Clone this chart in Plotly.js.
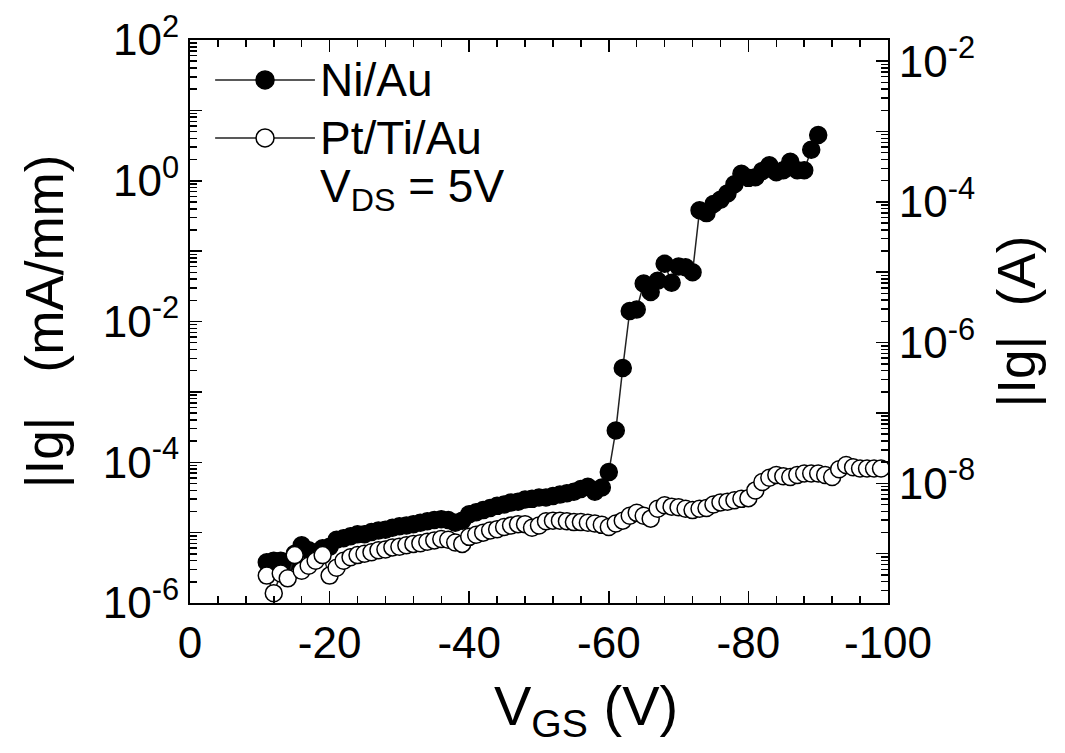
<!DOCTYPE html>
<html>
<head>
<meta charset="utf-8">
<script src="https://cdn.plot.ly/plotly-3.0.1.min.js"></script>
<style>html,body{margin:0;padding:0;background:#fff;}#chart{width:1065px;height:753px;}</style>
</head>
<body>
<div id="chart"></div>
<script>
// Gate voltage (V)
const vgsNiAu = [-11,-12,-13,-14,-15,-16,-17,-18,-19,-20,-21,-22,-23,-24,-25,-26,-27,-28,-29,-30,
  -31,-32,-33,-34,-35,-36,-37,-38,-39,-40,-41,-42,-43,-44,-45,-46,-47,-48,-49,-50,
  -51,-52,-53,-54,-55,-56,-57,-58,-59,-60,-61,-62,-63,-64,-65,-66,-67,-68,-69,-70,
  -71,-72,-73,-74,-75,-76,-77,-78,-79,-80,-81,-82,-83,-84,-85,-86,-87,-88,-89,-90];
// |Ig| (mA/mm), Ni/Au
const igNiAu = [3.8e-6,4.0e-6,4.0e-6,3.8e-6,5.0e-6,6.6e-6,5.6e-6,5.2e-6,6.0e-6,6.3e-6,
  7.9e-6,8.3e-6,8.9e-6,9.5e-6,9.5e-6,1.02e-5,1.07e-5,1.10e-5,1.17e-5,1.23e-5,
  1.26e-5,1.32e-5,1.38e-5,1.45e-5,1.51e-5,1.55e-5,1.51e-5,1.38e-5,1.48e-5,1.82e-5,
  1.95e-5,2.09e-5,2.24e-5,2.40e-5,2.51e-5,2.69e-5,2.75e-5,2.95e-5,3.02e-5,3.16e-5,
  3.16e-5,3.31e-5,3.47e-5,3.63e-5,3.80e-5,4.17e-5,4.47e-5,3.80e-5,4.37e-5,7.24e-5,
  2.82e-4,2.19e-3,1.41e-2,1.48e-2,3.47e-2,2.63e-2,3.80e-2,6.61e-2,3.55e-2,6.03e-2,
  5.89e-2,5.01e-2,0.380,0.347,0.468,0.537,0.661,0.891,1.26,1.10,
  1.12,1.38,1.66,1.32,1.41,1.86,1.41,1.41,2.75,4.47];

const vgsPtTiAu = [-11,-12,-13,-14,-15,-16,-17,-18,-19,-20,-21,-22,-23,-24,-25,-26,-27,-28,-29,-30,
  -31,-32,-33,-34,-35,-36,-37,-38,-39,-40,-41,-42,-43,-44,-45,-46,-47,-48,-49,-50,
  -51,-52,-53,-54,-55,-56,-57,-58,-59,-60,-61,-62,-63,-64,-65,-66,-67,-68,-69,-70,
  -71,-72,-73,-74,-75,-76,-77,-78,-79,-80,-81,-82,-83,-84,-85,-86,-87,-88,-89,-90,
  -91,-92,-93,-94,-95,-96,-97,-98,-99];
// |Ig| (mA/mm), Pt/Ti/Au
const igPtTiAu = [2.45e-6,1.38e-6,2.63e-6,2.24e-6,4.79e-6,2.88e-6,3.39e-6,3.98e-6,4.79e-6,2.45e-6,
  3.16e-6,3.98e-6,4.47e-6,4.79e-6,5.01e-6,5.25e-6,5.62e-6,5.75e-6,6.17e-6,6.31e-6,
  6.61e-6,6.92e-6,7.08e-6,7.41e-6,7.76e-6,8.13e-6,7.94e-6,7.24e-6,6.92e-6,8.71e-6,
  9.33e-6,1.0e-5,1.07e-5,1.12e-5,1.20e-5,1.26e-5,1.32e-5,1.32e-5,1.17e-5,1.26e-5,
  1.45e-5,1.48e-5,1.48e-5,1.45e-5,1.41e-5,1.41e-5,1.38e-5,1.35e-5,1.29e-5,1.20e-5,
  1.35e-5,1.48e-5,1.74e-5,1.91e-5,1.74e-5,1.58e-5,2.19e-5,2.45e-5,2.34e-5,2.29e-5,
  2.19e-5,2.09e-5,2.19e-5,2.24e-5,2.51e-5,2.69e-5,2.75e-5,2.88e-5,3.02e-5,3.09e-5,
  3.98e-5,5.25e-5,6.03e-5,6.61e-5,6.31e-5,6.17e-5,6.61e-5,6.92e-5,6.92e-5,6.92e-5,
  6.61e-5,6.17e-5,7.94e-5,9.12e-5,8.51e-5,8.13e-5,8.13e-5,8.13e-5,8.13e-5];

// Tick labels and texts
const xTickVals = [0,-20,-40,-60,-80,-100];
const xTickText = ['0','-20','-40','-60','-80','-100'];
const yLeftLabeledExps = [2,0,-2,-4,-6];
const yLeftPlainExps = [1,-1,-3,-5];
const yRightLabeledExps = [-2,-4,-6,-8];
const yRightPlainExps = [-3,-5,-7,-9];
const seriesNames = ['Ni/Au','Pt/Ti/Au'];
const conditionText = 'V<sub>DS</sub> = 5V';
const xTitleText = 'V<sub>GS</sub> (V)';

const pow10 = e => Math.pow(10, e);
const supLabel = e => '10<sup>' + e + '</sup>';
function minorVals(lo, hi){
  const out = [];
  for (let e = lo; e <= hi; e++) for (let k = 2; k <= 9; k++) out.push(k * pow10(e));
  return out;
}

const FONT = 'Liberation Sans, Arial, sans-serif';

const traces = [
  {x: vgsNiAu, y: igNiAu, name: seriesNames[0], type: 'scatter', mode: 'lines+markers',
   line: {color: '#222', width: 1.5},
   marker: {symbol: 'circle', size: 17, color: '#000', line: {color: '#000', width: 1.5}}},
  {x: vgsPtTiAu, y: igPtTiAu, name: seriesNames[1], type: 'scatter', mode: 'lines+markers',
   line: {color: '#222', width: 1.5},
   marker: {symbol: 'circle', size: 17, color: '#fff', line: {color: '#000', width: 1.5}}},
  // empty traces so that the extra (tick-only) axes are drawn
  {x: [], y: [], yaxis: 'y2', type: 'scatter', mode: 'markers', hoverinfo: 'skip', showlegend: false},
  {x: [], y: [], yaxis: 'y3', type: 'scatter', mode: 'markers', hoverinfo: 'skip', showlegend: false},
  {x: [], y: [], yaxis: 'y4', type: 'scatter', mode: 'markers', hoverinfo: 'skip', showlegend: false},
  {x: [], y: [], xaxis: 'x2', type: 'scatter', mode: 'markers', hoverinfo: 'skip', showlegend: false}
];

const tickFont = {family: FONT, size: 44, color: '#000'};
const axisCommon = {showline: true, linecolor: '#000', linewidth: 2, ticks: 'inside',
  tickcolor: '#000', tickwidth: 1.5, ticklen: 12, showgrid: false, zeroline: false,
  tickfont: tickFont};
const minorCommon = {ticks: 'inside', ticklen: 7, tickwidth: 1.5, tickcolor: '#000'};

// legend samples (paper coords)
const lg = [{y: 0.929, fill: '#000'}, {y: 0.826, fill: '#fff'}];
const shapes = [];
const annotations = [];
lg.forEach((g, i) => {
  shapes.push({type: 'line', xref: 'paper', yref: 'paper', x0: 0.036, x1: 0.179, y0: g.y, y1: g.y,
    line: {color: '#222', width: 1.5}});
  shapes.push({type: 'circle', xref: 'paper', yref: 'paper', xsizemode: 'pixel', ysizemode: 'pixel',
    xanchor: 0.1075, yanchor: g.y, x0: -9, x1: 9, y0: -9, y1: 9,
    fillcolor: g.fill, line: {color: '#000', width: 1.5}});
  annotations.push({xref: 'paper', yref: 'paper', x: 0.184, y: g.y, xanchor: 'left', yanchor: 'middle',
    height: 46, text: seriesNames[i], showarrow: false, font: {family: FONT, size: 46, color: '#000'}});
});
annotations.push({xref: 'paper', yref: 'paper', x: 0.184, y: 0.735, xanchor: 'left', yanchor: 'middle',
  height: 56, text: conditionText, showarrow: false, font: {family: FONT, size: 46, color: '#000'}});
// x-axis title, placed as in the reference (right of plot centre)
annotations.push({xref: 'paper', yref: 'paper', x: 0.568, y: -0.19, xanchor: 'center', yanchor: 'middle',
  text: xTitleText, showarrow: false, font: {family: FONT, size: 56, color: '#000'}});

const layout = {
  width: 1065, height: 753,
  paper_bgcolor: '#fff', plot_bgcolor: '#fff',
  margin: {l: 190, r: 177, t: 40, b: 150},
  showlegend: false,
  font: {family: FONT, color: '#000'},
  xaxis: Object.assign({}, axisCommon, {
    range: [0, -100], tickmode: 'array', tickvals: xTickVals, ticktext: xTickText,
    minor: Object.assign({dtick: 4, tick0: 0}, minorCommon)
  }),
  xaxis2: Object.assign({}, axisCommon, {
    range: [0, -100], overlaying: 'x', side: 'top', anchor: 'y',
    tickmode: 'array', tickvals: xTickVals, showticklabels: false,
    minor: Object.assign({dtick: 4, tick0: 0}, minorCommon)
  }),
  yaxis: Object.assign({}, axisCommon, {
    type: 'log', range: [-6, 2], tickmode: 'array',
    tickvals: yLeftLabeledExps.map(pow10), ticktext: yLeftLabeledExps.map(supLabel),
    minor: Object.assign({tickmode: 'array', tickvals: minorVals(-6, 1)}, minorCommon),
    title: {text: '|Ig|   (mA/mm)', font: {family: FONT, size: 53, color: '#000'}, standoff: 22}
  }),
  yaxis3: Object.assign({}, axisCommon, {
    type: 'log', range: [-6, 2], overlaying: 'y', side: 'left', anchor: 'x',
    tickmode: 'array', tickvals: yLeftPlainExps.map(pow10), showticklabels: false, showline: false
  }),
  yaxis2: Object.assign({}, axisCommon, {
    type: 'log', range: [-9.7, -1.7], overlaying: 'y', side: 'right', anchor: 'x',
    tickmode: 'array', tickvals: yRightLabeledExps.map(pow10), ticktext: yRightLabeledExps.map(supLabel),
    minor: Object.assign({tickmode: 'array', tickvals: minorVals(-10, -2)}, minorCommon),
    title: {text: '|Ig|  (A)', font: {family: FONT, size: 53, color: '#000'}, standoff: 24}
  }),
  yaxis4: Object.assign({}, axisCommon, {
    type: 'log', range: [-9.7, -1.7], overlaying: 'y', side: 'right', anchor: 'x',
    tickmode: 'array', tickvals: yRightPlainExps.map(pow10), showticklabels: false, showline: false
  }),
  shapes: shapes,
  annotations: annotations
};

Plotly.newPlot('chart', traces, layout, {displayModeBar: false, staticPlot: true});
</script>
</body>
</html>
